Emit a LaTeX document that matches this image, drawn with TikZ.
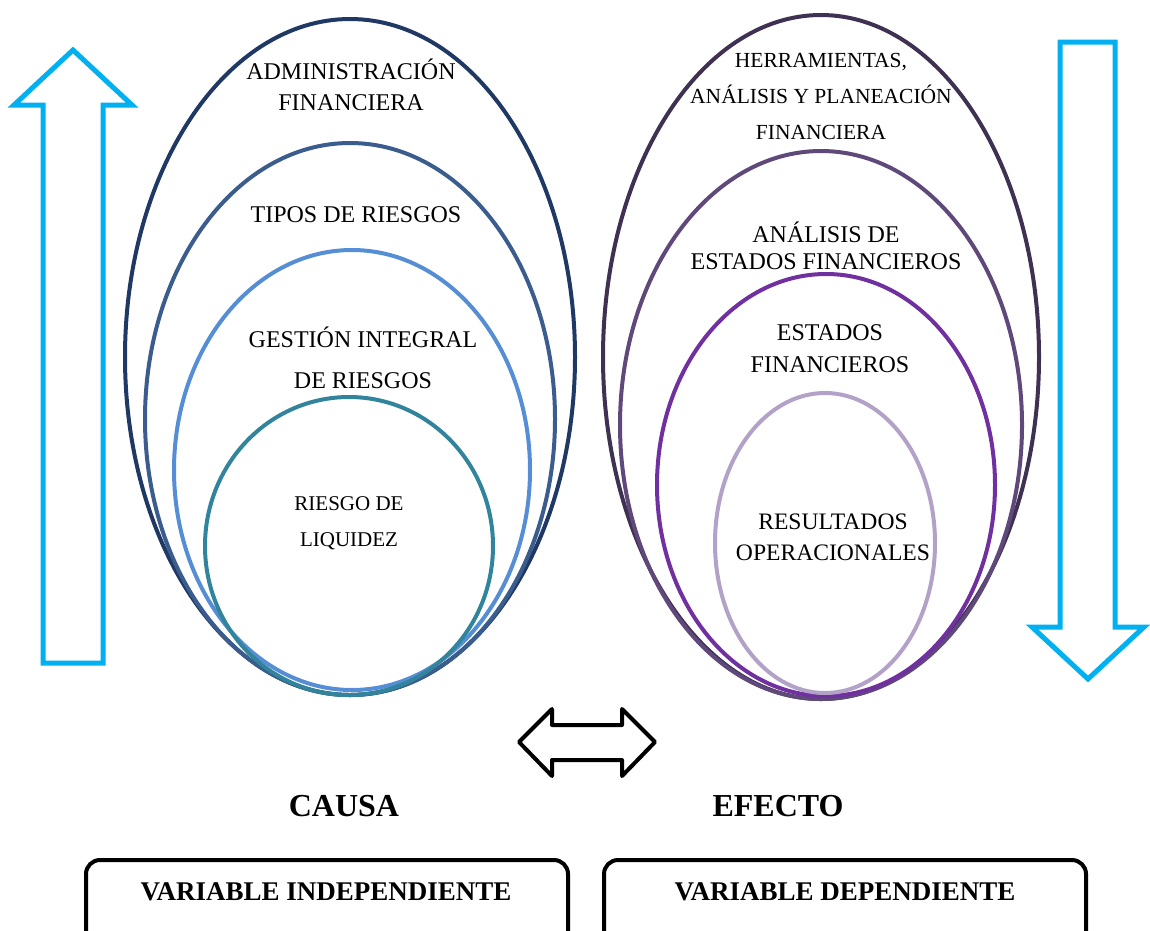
\documentclass[tikz,border=0pt]{standalone}
\usepackage{fontspec}
\setmainfont{Liberation Serif}
\usetikzlibrary{shapes.geometric}
\definecolor{navyA}{HTML}{1F3864}
\definecolor{navyB}{HTML}{3A5D8E}
\definecolor{blueC}{HTML}{558ED5}
\definecolor{tealD}{HTML}{31849B}
\definecolor{purA}{HTML}{3F3151}
\definecolor{purB}{HTML}{5F497A}
\definecolor{purC}{HTML}{7030A0}
\definecolor{purD}{HTML}{B3A2C7}
\definecolor{cyanA}{HTML}{00B0F0}
\tikzset{
  ring/.style={draw, ellipse, line width=4pt, inner sep=0pt, fill=none},
  lbl/.style={align=center, text=black, inner sep=0pt},
  bigarrow/.style={draw=cyanA, line width=5pt, line join=miter},
  dblarrow/.style={draw=black, line width=4pt, line join=round},
  varbox/.style={draw=black, line width=4pt, rounded corners=14pt, minimum width=482pt, minimum height=110pt, inner sep=0pt},
  headtxt/.style={font=\fontsize{32}{36}\selectfont\bfseries, inner sep=0pt}
}
\begin{document}
\begin{tikzpicture}[x=1pt,y=-1pt]
\useasboundingbox (0,0) rectangle (1150,930);
% left ellipses
\node[ring, draw=navyA, minimum width=450pt, minimum height=676pt] (L1) at (350,357) {};
\node[ring, draw=navyB, minimum width=410pt, minimum height=552pt] (L2) at (350,419) {};
\node[ring, draw=blueC, minimum width=356pt, minimum height=440pt] (L3) at (352,470) {};
\node[ring, draw=tealD, minimum width=288pt, minimum height=298pt] (L4) at (349,546) {};
% right ellipses
\node[ring, draw=purA, minimum width=436pt, minimum height=684pt] (R1) at (821,357) {};
\node[ring, draw=purB, minimum width=402pt, minimum height=548pt] (R2) at (821,425) {};
\node[ring, draw=purC, minimum width=338pt, minimum height=422pt] (R3) at (826,485) {};
\node[ring, draw=purD, minimum width=220pt, minimum height=300pt] (R4) at (825,543) {};
% labels left
\node[lbl, font=\fontsize{24}{31}\selectfont] (tL1) at (351,85) {ADMINISTRACIÓN\\FINANCIERA};
\node[lbl, font=\fontsize{24}{31}\selectfont] (tL2) at (356,215) {TIPOS DE RIESGOS};
\node[lbl, font=\fontsize{24}{41}\selectfont] (tL3) at (363,358) {GESTIÓN INTEGRAL\\DE RIESGOS};
\node[lbl, font=\fontsize{21}{36}\selectfont] (tL4) at (349,523) {RIESGO DE\\LIQUIDEZ};
% labels right
\node[lbl, font=\fontsize{21.5}{36}\selectfont] (tR1) at (821,96) {HERRAMIENTAS,\\ANÁLISIS Y PLANEACIÓN\\FINANCIERA};
\node[lbl, font=\fontsize{24}{27}\selectfont] (tR2) at (826,246) {ANÁLISIS DE\\ESTADOS FINANCIEROS};
\node[lbl, font=\fontsize{24}{32}\selectfont] (tR3) at (830,349) {ESTADOS\\FINANCIEROS};
\node[lbl, font=\fontsize{23.6}{31}\selectfont] (tR4) at (833,537) {RESULTADOS\\OPERACIONALES};
% up arrow
\draw[bigarrow] (73,50) -- (132,105) -- (103,105) -- (103,663) -- (43,663) -- (43,105) -- (14,105) -- cycle;
% down arrow
\draw[bigarrow] (1060,42) -- (1115,42) -- (1115,627) -- (1144,627) -- (1088,679) -- (1032,627) -- (1060,627) -- cycle;
% double arrow
\draw[dblarrow] (519,742) -- (552,709) -- (552,725) -- (622,725) -- (622,709) -- (655,742) -- (622,776) -- (622,760) -- (552,760) -- (552,776) -- cycle;
% cause / effect
\node[headtxt] (causa) at (344,806) {CAUSA};
\node[headtxt] (efecto) at (778,806) {EFECTO};
% boxes
\begin{scope}
\clip (0,0) rectangle (1150,930);
\node[varbox] (vi) at (327,915) {};
\node[varbox] (vd) at (845,915) {};
\end{scope}
\node[inner sep=0pt, font=\fontsize{27}{30}\selectfont\bfseries] (tvi) at (326,892) {VARIABLE INDEPENDIENTE};
\node[inner sep=0pt, font=\fontsize{27}{30}\selectfont\bfseries] (tvd) at (845,892) {VARIABLE DEPENDIENTE};
\end{tikzpicture}
\end{document}
